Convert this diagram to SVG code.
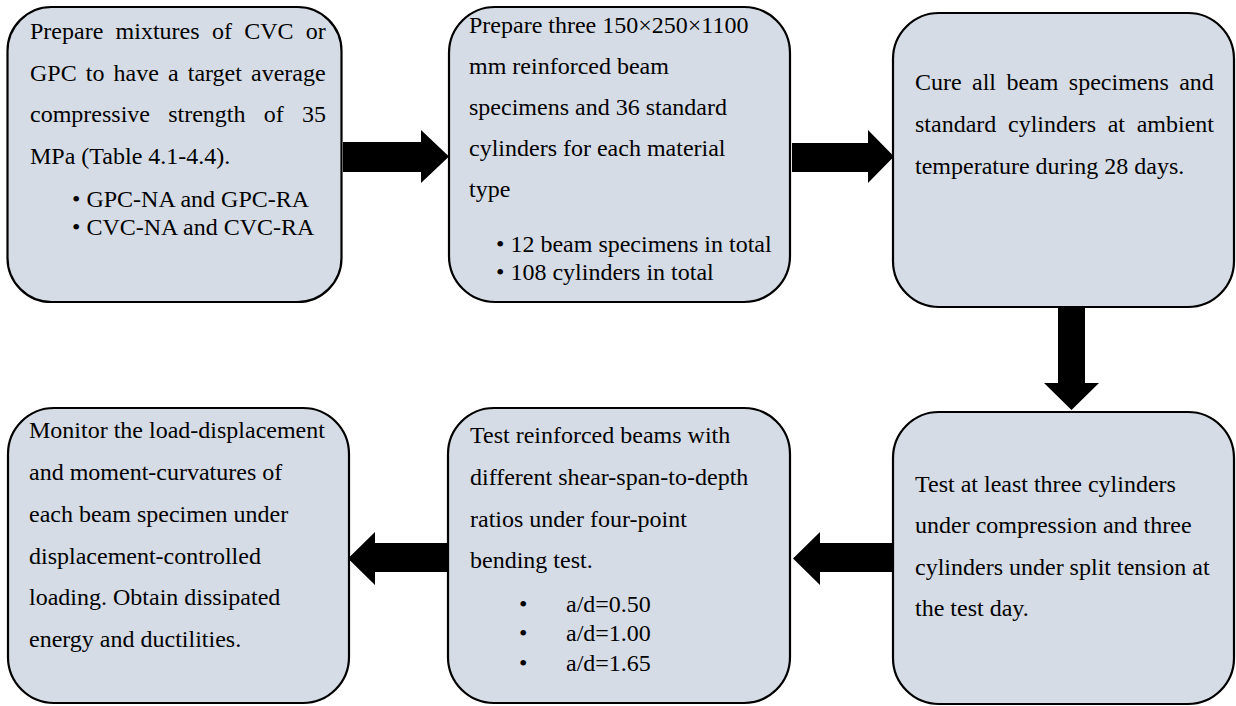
<svg xmlns="http://www.w3.org/2000/svg" width="1236" height="706" viewBox="0 0 1236 706">
<style>
.box{fill:#D6DCE5;stroke:#000;stroke-width:2.2}
.t{font-family:"Liberation Serif","Times New Roman",serif;font-size:24px;fill:#000}
.arr{fill:#000;stroke:none}
</style>
<rect width="1236" height="706" fill="#fff"/>
<g id="connectors">
<polygon class="arr" points="343,142 421,142 421,130 449,156.5 421,183 421,172 343,172"/>
<polygon class="arr" points="792,143 868,143 868,130 894,156.5 868,183 868,172 792,172"/>
<polygon class="arr" points="1058,308 1085,308 1085,383 1099,383 1071.5,410 1044,383 1058,383"/>
<polygon class="arr" points="893,543 820,543 820,532 793,558.5 820,585 820,572 893,572"/>
<polygon class="arr" points="448,543 375,543 375,532 348,558.5 375,585 375,572 448,572"/>
</g>
<g id="node1">
<rect class="box" x="7.5" y="7" width="334" height="295" rx="44" ry="44"/>
<text class="t" x="30" y="39" word-spacing="6.3">Prepare mixtures of CVC or</text>
<text class="t" x="30" y="80.5" word-spacing="3.1">GPC to have a target average</text>
<text class="t" x="30" y="122" word-spacing="12.2">compressive strength of 35</text>
<text class="t" x="30" y="163.5">MPa (Table 4.1-4.4).</text>
<text class="t" x="72" y="207">• GPC-NA and GPC-RA</text>
<text class="t" x="72" y="235">• CVC-NA and CVC-RA</text>
</g>
<g id="node2">
<rect class="box" x="449" y="7" width="341" height="295" rx="46" ry="46"/>
<text class="t" x="469" y="33">Prepare three 150×250×1100</text>
<text class="t" x="469" y="74">mm reinforced beam</text>
<text class="t" x="469" y="115">specimens and 36 standard</text>
<text class="t" x="469" y="156">cylinders for each material</text>
<text class="t" x="469" y="197">type</text>
<text class="t" x="496" y="252">• 12 beam specimens in total</text>
<text class="t" x="496" y="280">• 108 cylinders in total</text>
</g>
<g id="node3">
<rect class="box" x="893" y="13" width="341" height="294" rx="46" ry="46"/>
<text class="t" x="915" y="90" word-spacing="4.4">Cure all beam specimens and</text>
<text class="t" x="915" y="132" word-spacing="5.7">standard cylinders at ambient</text>
<text class="t" x="915" y="174">temperature during 28 days.</text>
</g>
<g id="node4">
<rect class="box" x="893" y="412" width="341" height="292" rx="46" ry="46"/>
<text class="t" x="915" y="492">Test at least three cylinders</text>
<text class="t" x="915" y="533">under compression and three</text>
<text class="t" x="915" y="575">cylinders under split tension at</text>
<text class="t" x="915" y="616">the test day.</text>
</g>
<g id="node5">
<rect class="box" x="448" y="408" width="342" height="295" rx="46" ry="46"/>
<text class="t" x="470" y="443">Test reinforced beams with</text>
<text class="t" x="470" y="485">different shear-span-to-depth</text>
<text class="t" x="470" y="527">ratios under four-point</text>
<text class="t" x="470" y="568">bending test.</text>
<text class="t" x="519" y="612">•</text><text class="t" x="566" y="612">a/d=0.50</text>
<text class="t" x="519" y="641">•</text><text class="t" x="566" y="641">a/d=1.00</text>
<text class="t" x="519" y="671">•</text><text class="t" x="566" y="671">a/d=1.65</text>
</g>
<g id="node6">
<rect class="box" x="8" y="408" width="341" height="295" rx="46" ry="46"/>
<text class="t" x="29" y="438">Monitor the load-displacement</text>
<text class="t" x="29" y="480">and moment-curvatures of</text>
<text class="t" x="29" y="522">each beam specimen under</text>
<text class="t" x="29" y="564">displacement-controlled</text>
<text class="t" x="29" y="605">loading. Obtain dissipated</text>
<text class="t" x="29" y="647">energy and ductilities.</text>
</g>
</svg>
